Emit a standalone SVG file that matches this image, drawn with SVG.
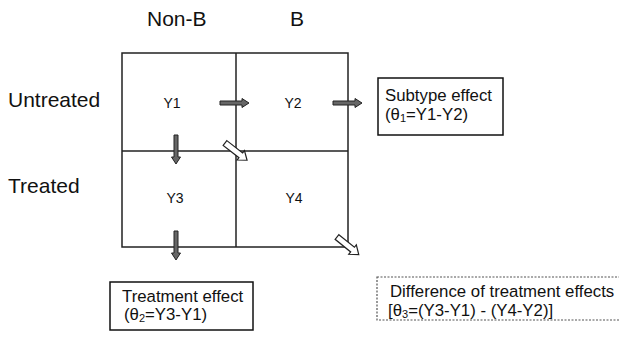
<svg xmlns="http://www.w3.org/2000/svg" width="619" height="341" viewBox="0 0 619 341">
<style>
text{font-family:"Liberation Sans",Arial,sans-serif;fill:#111}
.hdr{font-size:21px}
.cell{font-size:14px;text-anchor:middle}
.box{font-size:16.8px}
.grid{fill:none;stroke:#222;stroke-width:1.5}
.bx{fill:#fff;stroke:#111;stroke-width:1.5}
.dbx{fill:#fff;stroke:#555;stroke-width:1.2;stroke-dasharray:2 1.5}
.ga{fill:#666;stroke:#222;stroke-width:1}
.wa{fill:#fff;stroke:#222;stroke-width:1.2}
</style>
<defs>
<path id="garrow" d="M0,-2 L22,-2 L22,-4.5 L29,0 L22,4.5 L22,2 L0,2 Z"/>
<path id="warrow" d="M0,-3 L20,-3 L20,-6 L28,0 L20,6 L20,3 L0,3 Z"/>
</defs>
<rect width="619" height="341" fill="#fff"/>
<g id="headers">
<text class="hdr" x="147" y="26">Non-B</text>
<text class="hdr" x="290" y="26">B</text>
<text class="hdr" x="8" y="107">Untreated</text>
<text class="hdr" x="8" y="193">Treated</text>
</g>
<g id="grid">
<rect class="grid" x="122" y="53" width="226" height="194"/>
<line class="grid" x1="236" y1="53" x2="236" y2="247"/>
<line class="grid" x1="122" y1="151" x2="348" y2="151"/>
</g>
<g id="cell-y1"><text class="cell" x="172" y="108">Y1</text></g>
<g id="cell-y2"><text class="cell" x="293" y="108">Y2</text></g>
<g id="cell-y3"><text class="cell" x="175" y="203">Y3</text></g>
<g id="cell-y4"><text class="cell" x="294" y="203">Y4</text></g>
<g id="connectors">
<use href="#garrow" class="ga" transform="translate(220,103)"/>
<use href="#garrow" class="ga" transform="translate(333,103)"/>
<use href="#garrow" class="ga" transform="translate(176,135) rotate(90)"/>
<use href="#garrow" class="ga" transform="translate(176,231) rotate(90)"/>
<use href="#warrow" class="wa" transform="translate(225,143) rotate(38)"/>
<use href="#warrow" class="wa" transform="translate(337,237) rotate(39)"/>
</g>
<g id="subtype-effect">
<rect class="bx" x="378" y="78" width="125" height="57"/>
<text class="box" x="385" y="101">Subtype effect</text>
<text class="box" x="385" y="120">(θ<tspan font-size="11" dy="2">1</tspan><tspan dy="-2">=Y1-Y2)</tspan></text>
</g>
<g id="treatment-effect">
<rect class="bx" x="110" y="282" width="143" height="48"/>
<text class="box" x="122" y="302">Treatment effect</text>
<text class="box" x="124" y="320">(θ<tspan font-size="11" dy="2">2</tspan><tspan dy="-2">=Y3-Y1)</tspan></text>
</g>
<g id="difference-effect">
<rect class="dbx" x="377" y="277" width="250" height="43"/>
<text class="box" x="390" y="297">Difference of treatment effects</text>
<text class="box" x="388" y="316">[θ<tspan font-size="11" dy="2">3</tspan><tspan dy="-2">=(Y3-Y1) - (Y4-Y2)]</tspan></text>
</g>
</svg>
